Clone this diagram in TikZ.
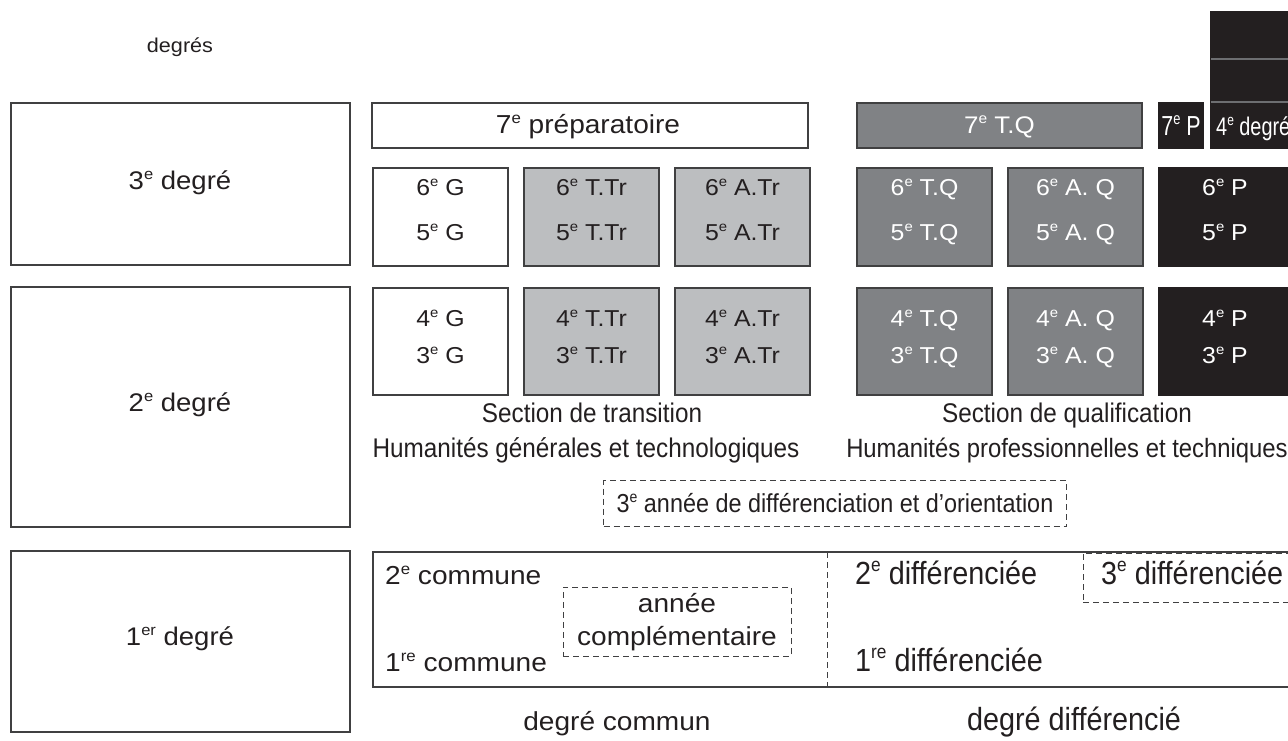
\documentclass[tikz,border=0pt]{standalone}
\usepackage{fontspec}
\setmainfont{Liberation Sans}
\newfontfamily\rf[FakeStretch=1.08]{Liberation Sans}
\newfontfamily\cf[FakeStretch=0.9]{Liberation Sans}
\newfontfamily\ccf[FakeStretch=0.78]{Liberation Sans}
\newcommand{\fsz}[1]{\fontsize{#1}{#1}\selectfont}
\newcommand{\ex}[1]{\raisebox{0.38em}{\scalebox{0.6}{#1}}}
\definecolor{ink}{HTML}{231F20}
\definecolor{lgray}{HTML}{BCBEC0}
\definecolor{mgray}{HTML}{808285}
\definecolor{edge}{HTML}{404041}
\definecolor{sepg}{HTML}{6D6E71}
\begin{document}
\begin{tikzpicture}[x=1pt,y=-1pt,
  bx/.style={draw=edge, line width=1.3pt, inner sep=0pt, outer sep=0pt},
  dbx/.style={draw=edge, line width=0.9pt, dash pattern=on 6pt off 4pt, inner sep=0pt, outer sep=0pt},
  txt/.style={inner sep=0pt, anchor=base, text=ink},
  wtxt/.style={inner sep=0pt, anchor=base, text=white},
  btxt/.style={txt, font=\rf\fsz{23}},
  bwtxt/.style={wtxt, font=\rf\fsz{23}}]
\useasboundingbox (0,0) rectangle (1288,740);

% ---- left column: degrees
\node[txt, font=\rf\fsz{20}] (degres) at (180,52) {degrés};
\node[bx, minimum width=339pt, minimum height=162pt] (d3) at (180.5,184) {};
\node[bx, minimum width=339pt, minimum height=240pt] (d2) at (180.5,407) {};
\node[bx, minimum width=339pt, minimum height=181pt] (d1) at (180.5,641.5) {};
\node[txt, font=\rf\fsz{25.5}] (l3) at (180,189) {3\ex{e} degré};
\node[txt, font=\rf\fsz{25.5}] (l2) at (180,411) {2\ex{e} degré};
\node[txt, font=\rf\fsz{25.5}] (l1) at (180,645) {1\ex{er} degré};

% ---- top row (7e)
\node[bx, minimum width=436pt, minimum height=45pt] (prep) at (590,125.5) {};
\node[txt, font=\rf\fsz{26}] (prept) at (588,133) {7\ex{e} préparatoire};
\node[bx, fill=mgray, minimum width=285pt, minimum height=45pt] (tq7) at (999.5,125.5) {};
\node[wtxt, font=\rf\fsz{24}] (tq7t) at (999.5,133) {7\ex{e} T.Q};
\node[bx, draw=ink, fill=ink, minimum width=44pt, minimum height=45pt] (p7) at (1181,125.5) {};
\node[wtxt, font=\ccf\fsz{27.5}] (p7t) at (1181,135) {7\ex{e} P};
\node[bx, draw=ink, fill=ink, minimum width=90pt, minimum height=46pt] (d4) at (1256,125) {};
\node[bx, draw=ink, fill=ink, minimum width=90pt, minimum height=43pt] (d4b) at (1256,80.5) {};
\node[bx, draw=ink, fill=ink, minimum width=90pt, minimum height=47pt] (d4c) at (1256,35.5) {};
\draw[sepg, line width=1.5pt] (d4.north west) -- (d4.north east);
\draw[sepg, line width=1.5pt] (d4b.north west) -- (d4b.north east);
\node[wtxt, font=\ccf\fsz{25.5}, anchor=base west] (d4t) at (1216,135) {4\ex{e} degré};

% ---- row 6e/5e
\node[bx, minimum width=135pt, minimum height=98pt] (g1) at (440.5,217) {};
\node[bx, fill=lgray, minimum width=135pt, minimum height=98pt] (ttr1) at (591.5,217) {};
\node[bx, fill=lgray, minimum width=135pt, minimum height=98pt] (atr1) at (742.5,217) {};
\node[bx, fill=mgray, minimum width=135pt, minimum height=98pt] (tq1) at (924.5,217) {};
\node[bx, fill=mgray, minimum width=135pt, minimum height=98pt] (aq1) at (1075.5,217) {};
\node[bx, draw=ink, fill=ink, minimum width=135pt, minimum height=98pt] (p1) at (1226.5,217) {};
\node[btxt] (g1a) at (440.5,195) {6\ex{e} G};
\node[btxt] (g1b) at (440.5,240) {5\ex{e} G};
\node[btxt] (ttr1a) at (591.5,195) {6\ex{e} T.Tr};
\node[btxt] (ttr1b) at (591.5,240) {5\ex{e} T.Tr};
\node[btxt] (atr1a) at (742.5,195) {6\ex{e} A.Tr};
\node[btxt] (atr1b) at (742.5,240) {5\ex{e} A.Tr};
\node[bwtxt] (tq1a) at (924.5,195) {6\ex{e} T.Q};
\node[bwtxt] (tq1b) at (924.5,240) {5\ex{e} T.Q};
\node[bwtxt] (aq1a) at (1075.5,195) {6\ex{e} A. Q};
\node[bwtxt] (aq1b) at (1075.5,240) {5\ex{e} A. Q};
\node[bwtxt] (p1a) at (1225,195) {6\ex{e} P};
\node[bwtxt] (p1b) at (1225,240) {5\ex{e} P};

% ---- row 4e/3e
\node[bx, minimum width=135pt, minimum height=107pt] (g2) at (440.5,341.5) {};
\node[bx, fill=lgray, minimum width=135pt, minimum height=107pt] (ttr2) at (591.5,341.5) {};
\node[bx, fill=lgray, minimum width=135pt, minimum height=107pt] (atr2) at (742.5,341.5) {};
\node[bx, fill=mgray, minimum width=135pt, minimum height=107pt] (tq2) at (924.5,341.5) {};
\node[bx, fill=mgray, minimum width=135pt, minimum height=107pt] (aq2) at (1075.5,341.5) {};
\node[bx, draw=ink, fill=ink, minimum width=135pt, minimum height=107pt] (p2) at (1226.5,341.5) {};
\node[btxt] (g2a) at (440.5,326) {4\ex{e} G};
\node[btxt] (g2b) at (440.5,363) {3\ex{e} G};
\node[btxt] (ttr2a) at (591.5,326) {4\ex{e} T.Tr};
\node[btxt] (ttr2b) at (591.5,363) {3\ex{e} T.Tr};
\node[btxt] (atr2a) at (742.5,326) {4\ex{e} A.Tr};
\node[btxt] (atr2b) at (742.5,363) {3\ex{e} A.Tr};
\node[bwtxt] (tq2a) at (924.5,326) {4\ex{e} T.Q};
\node[bwtxt] (tq2b) at (924.5,363) {3\ex{e} T.Q};
\node[bwtxt] (aq2a) at (1075.5,326) {4\ex{e} A. Q};
\node[bwtxt] (aq2b) at (1075.5,363) {3\ex{e} A. Q};
\node[bwtxt] (p2a) at (1225,326) {4\ex{e} P};
\node[bwtxt] (p2b) at (1225,363) {3\ex{e} P};

% ---- section labels
\node[txt, font=\cf\fsz{27}] (sec1) at (592,422) {Section de transition};
\node[txt, font=\cf\fsz{27}] (hum1) at (586,457) {Humanités générales et technologiques};
\node[txt, font=\cf\fsz{27}] (sec2) at (1067,422) {Section de qualification};
\node[txt, font=\cf\fsz{26.5}] (hum2) at (1067,457) {Humanités professionnelles et techniques};
\node[dbx, minimum width=463pt, minimum height=46pt] (ori) at (835,503.5) {};
\node[txt, font=\cf\fsz{26}] (orit) at (835,512) {3\ex{e} année de différenciation et d’orientation};

% ---- 1st degree block
\node[bx, minimum width=930pt, minimum height=135pt] (bot) at (838,619.5) {};
\coordinate (dv1) at (827,552);
\coordinate (dv2) at (827,687);
\draw[draw=edge, line width=0.9pt, dash pattern=on 6pt off 4pt] (dv1) -- (dv2);
\node[txt, font=\rf\fsz{26}, anchor=base west] (c2) at (385,584) {2\ex{e} commune};
\node[txt, font=\rf\fsz{26}, anchor=base west] (c1) at (385,671) {1\ex{re} commune};
\node[dbx, minimum width=228pt, minimum height=69pt] (comp) at (677,621.5) {};
\node[txt, font=\rf\fsz{26}] (compa) at (677,612) {année};
\node[txt, font=\rf\fsz{26}] (compb) at (677,645) {complémentaire};
\node[txt, font=\cf\fsz{32}, anchor=base west] (df2) at (855,584) {2\ex{e} différenciée};
\node[txt, font=\cf\fsz{32}, anchor=base west] (df1) at (855,671) {1\ex{re} différenciée};
\node[dbx, minimum width=220pt, minimum height=49pt] (df3) at (1193,577.5) {};
\node[txt, font=\cf\fsz{32}, anchor=base west] (df3t) at (1101,584) {3\ex{e} différenciée};

\node[txt, font=\rf\fsz{26}] (dcom) at (617,730) {degré commun};
\node[txt, font=\cf\fsz{32}] (ddif) at (1074,730) {degré différencié};
\end{tikzpicture}
\end{document}
